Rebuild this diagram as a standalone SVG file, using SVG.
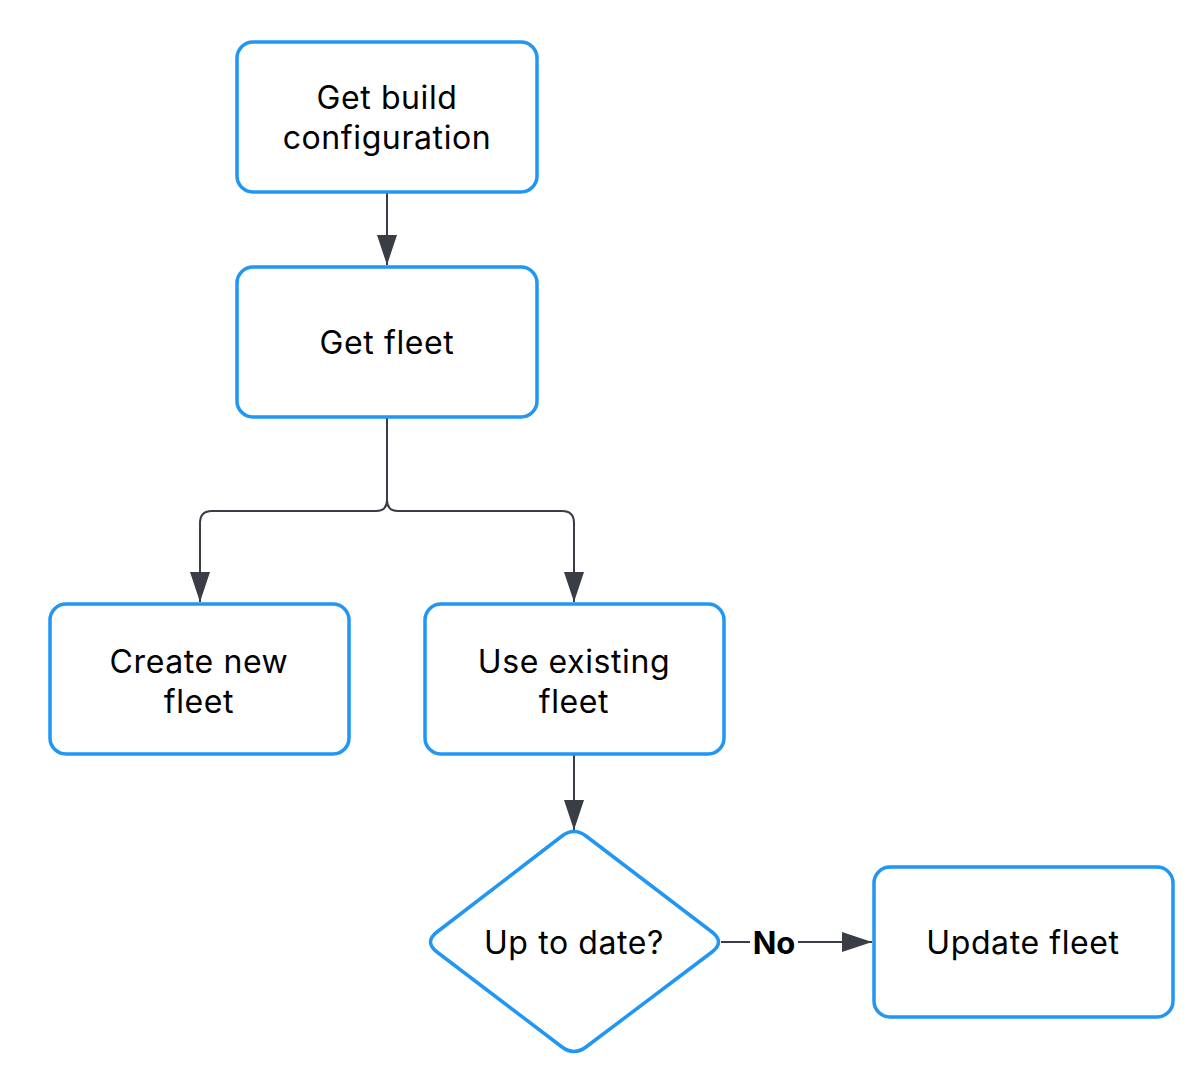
<svg xmlns="http://www.w3.org/2000/svg" width="1204" height="1087" viewBox="0 0 1204 1087">
<style>
.node{fill:#fff;stroke:#2196f3;stroke-width:3.5}
.lbl{font-family:Inter,"Noto Sans",sans-serif;font-size:32px;letter-spacing:0.6px;fill:#000;text-anchor:middle;dominant-baseline:central}
.edge{fill:none;stroke:#3a3d45;stroke-width:2}
.elbl{font-family:Inter,"Noto Sans",sans-serif;font-size:31px;font-weight:bold;fill:#000;text-anchor:middle;dominant-baseline:central}
</style>
<defs>
<marker id="arr" markerUnits="userSpaceOnUse" markerWidth="30" markerHeight="20" refX="30" refY="10" orient="auto" viewBox="0 0 30 20">
<path d="M0,0 L30,10 L0,20 Z" fill="#3a3d45"/>
</marker>
</defs>
<rect width="1204" height="1087" fill="#fff"/>
<g id="connectors">
<path class="edge" d="M387,193 V265" marker-end="url(#arr)"/>
<path class="edge" d="M387,418 V500 Q387,511 376,511 H212 Q200,511 200,523 V602" marker-end="url(#arr)"/>
<path class="edge" d="M387,500 Q387,511 398,511 H562 Q574,511 574,523 V602" marker-end="url(#arr)"/>
<path class="edge" d="M574,755 V830" marker-end="url(#arr)"/>
<path class="edge" d="M721,942 H872" marker-end="url(#arr)"/>
<rect x="750" y="925" width="48" height="34" fill="#fff"/>
<text class="elbl" x="774" y="942">No</text>
</g>
<g id="n1">
<rect class="node" x="237" y="42" width="300" height="150" rx="16"/>
<text class="lbl" x="387" y="97">Get build</text>
<text class="lbl" x="387" y="137">configuration</text>
</g>
<g id="n2">
<rect class="node" x="237" y="267" width="300" height="150" rx="16"/>
<text class="lbl" x="387" y="342">Get fleet</text>
</g>
<g id="n3">
<rect class="node" x="50" y="604" width="299" height="150" rx="16"/>
<text class="lbl" x="199" y="661">Create new</text>
<text class="lbl" x="199" y="701">fleet</text>
</g>
<g id="n4">
<rect class="node" x="425" y="604" width="299" height="150" rx="16"/>
<text class="lbl" x="574" y="661">Use existing</text>
<text class="lbl" x="574" y="701">fleet</text>
</g>
<g id="n5">
<path class="node" d="M562,836 Q574,827 586,836 L712,932 Q725,942 712,952 L586,1047 Q574,1056 562,1047 L437,952 Q424,942 437,932 Z"/>
<text class="lbl" x="574" y="942">Up to date?</text>
</g>
<g id="n6">
<rect class="node" x="874" y="867" width="299" height="150" rx="16"/>
<text class="lbl" x="1023" y="942">Update fleet</text>
</g>
</svg>
